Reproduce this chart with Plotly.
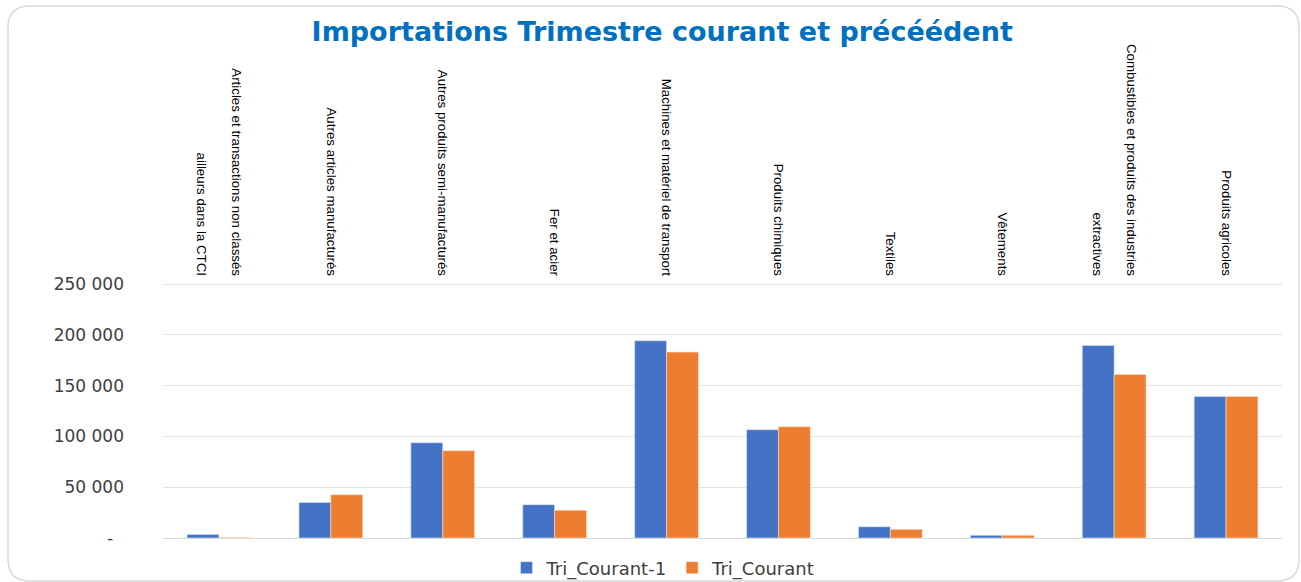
import plotly.graph_objects as go

categories = [
    "Articles et transactions non classés<br>\u00a0<br>ailleurs dans la CTCI",
    "Autres articles manufacturés",
    "Autres produits semi-manufacturés",
    "Fer et acier",
    "Machines et matériel de transport",
    "Produits chimiques",
    "Textiles",
    "Vêtements",
    "Combustibles et produits des industries<br>\u00a0<br>extractives",
    "Produits agricoles",
]
tri_courant_1 = [3500, 35000, 93800, 32800, 194200, 106600, 11100, 2600, 189600, 139400]
tri_courant = [600, 42600, 85900, 27200, 183000, 109500, 8500, 2600, 161000, 139400]

y_tickvals = [0, 50000, 100000, 150000, 200000, 250000]
y_ticktext = ["-\u00a0\u00a0", "50 000", "100 000", "150 000", "200 000", "250 000"]

W, H = 1301, 582
L, R, T, B = 163, 19, 283, 44
pw, ph = W - L - R, H - T - B

def px2paper(x, y):
    return (x - L) / pw, (H - B - y) / ph

fig = go.Figure()
fig.add_trace(go.Bar(name="Tri_Courant-1", x=categories, y=tri_courant_1,
                     marker=dict(color="#4472C4", line=dict(width=0.6, color="#dfe6f5"))))
fig.add_trace(go.Bar(name="Tri_Courant", x=categories, y=tri_courant,
                     marker=dict(color="#ED7D31", line=dict(width=0.6, color="#fbe3d4"))))

# rounded chart border
x0, y0 = 8, 6
x1, y1 = 1299, 581
r = 22
def P(x, y):
    a, b = px2paper(x, y)
    return f"{a:.5f},{b:.5f}"
path = (f"M {P(x0 + r, y0)} L {P(x1 - r, y0)} Q {P(x1, y0)} {P(x1, y0 + r)} "
        f"L {P(x1, y1 - r)} Q {P(x1, y1)} {P(x1 - r, y1)} "
        f"L {P(x0 + r, y1)} Q {P(x0, y1)} {P(x0, y1 - r)} "
        f"L {P(x0, y0 + r)} Q {P(x0, y0)} {P(x0 + r, y0)} Z")

fig.update_layout(
    width=W, height=H,
    margin=dict(l=L, r=R, t=T, b=B, autoexpand=False),
    paper_bgcolor="white", plot_bgcolor="white",
    barmode="group", bargap=0.43, bargroupgap=0,
    title=dict(text="<b>Importations Trimestre courant et précéédent</b>",
               font=dict(family="DejaVu Sans", size=27, color="#0070C0"),
               x=0.509, xref="container", xanchor="center",
               y=1 - 32 / H, yref="container", yanchor="middle"),
    xaxis=dict(side="top", tickangle=90, showgrid=False, showline=False,
               ticks="", ticklabelstandoff=4, automargin=False,
               tickfont=dict(family="Liberation Sans", size=13.3, color="#000000")),
    yaxis=dict(range=[0, 251000], tickvals=y_tickvals, ticktext=y_ticktext,
               showgrid=True, gridcolor="#e3e3e3", gridwidth=1,
               zeroline=True, zerolinecolor="#d9d9d9", zerolinewidth=1,
               showline=False, ticks="", ticklabelstandoff=38, automargin=False,
               tickfont=dict(family="DejaVu Sans", size=17, color="#404040")),
    legend=dict(orientation="h", x=0.51, xanchor="center", xref="container",
                y=1 - 568 / H, yanchor="middle", yref="container",
                font=dict(family="DejaVu Sans", size=18, color="#404040"),
                itemwidth=30, tracegroupgap=0, bgcolor="rgba(0,0,0,0)"),
    shapes=[dict(type="path", xref="paper", yref="paper", path=path,
                 line=dict(color="#d9d9d9", width=1.5), fillcolor="rgba(0,0,0,0)", layer="below")],
    showlegend=True,
)

fig.write_html("out.html", config={"displayModeBar": False},
               post_script="document.body.style.margin='0';document.body.style.overflow='hidden';")
